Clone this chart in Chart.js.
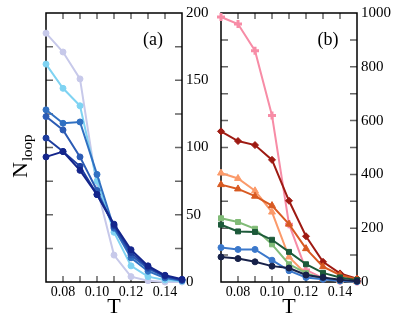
<!DOCTYPE html>
<html>
<head>
<meta charset="utf-8">
<script src="https://cdn.jsdelivr.net/npm/chart.js@4.4.1/dist/chart.umd.min.js"></script>
<style>
body{margin:0;background:#fff;}
#wrap{position:relative;width:407px;height:318px;overflow:hidden;}
canvas{position:absolute;top:0;}
</style>
</head>
<body>
<div id="wrap">
<canvas id="chartA" width="215" height="318" style="left:0px"></canvas>
<canvas id="chartB" width="207" height="318" style="left:200px"></canvas>
</div>
<script>
// temperatures on the x axis
var temps = [0.07, 0.08, 0.09, 0.10, 0.11, 0.12, 0.13, 0.14, 0.15];

// panel (a)
var aLavender = [185, 171, 151, 70, 20, 4, 1, 0, 0];
var aCyan     = [162, 144, 131, 75, 37, 12, 4, 1.5, 0.5];
var aBlue1    = [128, 118, 119, 80, 40, 18, 8, 3, 1];
var aBlue2    = [123, 113, 93, 68, 41, 20, 10, 4, 1.5];
var aBlue3    = [107, 97, 86, 65, 42, 22, 11, 4.5, 1.5];
var aNavy     = [93, 97, 83, 65, 43, 24, 12, 5, 2];

// panel (b)
var bPink        = [985, 959, 860, 619, 215, 45, 14, 5, 2];
var bDarkRed     = [560, 524, 509, 454, 302, 170, 75, 32, 12];
var bLightOrange = [405, 385, 339, 260, 93, 30, 12, 5, 2];
var bOrangeRed   = [362, 346, 319, 284, 215, 124, 57, 26, 10];
var bLightGreen  = [237, 223, 198, 140, 66, 33, 12, 5, 2];
var bDarkGreen   = [213, 188, 186, 157, 112, 66, 34, 17, 7];
var bBlue        = [128, 121, 121, 81, 42, 17, 10, 4, 1];
var bNavy        = [93, 87, 75, 59, 52, 26, 17, 8, 3];

var xLabels = [0.08, 0.10, 0.12, 0.14];
var yLabelsA = [0, 50, 100, 150, 200];
var yLabelsB = [0, 200, 400, 600, 800, 1000];

var serif = "'Liberation Serif', 'DejaVu Serif', serif";

function pts(vals){
  return vals.map(function(v,i){ return {x: temps[i], y: v}; });
}

function ds(vals, color, shape, r, pbw){
  return {
    data: pts(vals),
    borderColor: color,
    backgroundColor: color,
    pointBackgroundColor: color,
    pointBorderColor: color,
    pointStyle: shape,
    pointRadius: r,
    pointBorderWidth: pbw || 1,
    borderWidth: 2,
    tension: 0,
    clip: false
  };
}

// frame + inward ticks on all four sides
var framePlugin = {
  id: 'frame',
  beforeDatasetsDraw: function(chart){
    var ctx = chart.ctx, a = chart.chartArea;
    var xs = chart.scales.x, ys = chart.scales.y;
    ctx.save();
    ctx.strokeStyle = '#666';
    ctx.lineWidth = 1.5;
    ctx.beginPath();
    xs.ticks.forEach(function(t){
      var px = xs.getPixelForValue(t.value);
      if (px <= a.left + 1 || px >= a.right - 1) return;
      ctx.moveTo(px, a.top); ctx.lineTo(px, a.top + 6);
      ctx.moveTo(px, a.bottom); ctx.lineTo(px, a.bottom - 6);
    });
    ys.ticks.forEach(function(t){
      var py = ys.getPixelForValue(t.value);
      if (py <= a.top + 1 || py >= a.bottom - 1) return;
      ctx.moveTo(a.left, py); ctx.lineTo(a.left + 7, py);
      ctx.moveTo(a.right, py); ctx.lineTo(a.right - 7, py);
    });
    ctx.stroke();
    ctx.strokeStyle = '#000';
    ctx.lineWidth = 1.5;
    ctx.strokeRect(a.left, a.top, a.right - a.left, a.bottom - a.top);
    ctx.restore();
  },
  afterDraw: function(chart){
    var ctx = chart.ctx, a = chart.chartArea;
    var o = chart.options.plugins.frame;
    ctx.save();
    ctx.fillStyle = '#000';
    ctx.textAlign = 'center';
    ctx.textBaseline = 'middle';
    ctx.font = '18px ' + serif;
    ctx.fillText(o.tag, a.right - 29, 40);
    if (o.ylabel) {
      ctx.translate(27, 178);
      ctx.rotate(-Math.PI / 2);
      ctx.textAlign = 'left';
      ctx.textBaseline = 'alphabetic';
      ctx.font = '22px ' + serif;
      ctx.fillText('N', 0, 0);
      var w = ctx.measureText('N').width;
      ctx.font = '15px ' + serif;
      ctx.fillText('loop', w + 1, 5);
    }
    ctx.restore();
  }
};

function makeOptions(ymax, ystep, ylabels, padLeft, yWidth, tag, ylabel){
  return {
    responsive: false,
    devicePixelRatio: 1,
    animation: false,
    layout: {padding: {top: 11, left: padLeft, right: 0, bottom: 0}},
    plugins: {
      legend: {display: false},
      tooltip: {enabled: false},
      frame: {tag: tag, ylabel: ylabel}
    },
    scales: {
      x: {
        type: 'linear',
        min: 0.07, max: 0.15,
        grid: {display: false, drawTicks: false},
        border: {display: false},
        afterFit: function(s){ s.height = 36; },
        ticks: {
          stepSize: 0.01,
          autoSkip: false,
          maxRotation: 0,
          padding: 2,
          color: '#000',
          font: {family: serif, size: 14},
          callback: function(v){
            var k = Math.round(v * 100);
            for (var i = 0; i < xLabels.length; i++) {
              if (Math.round(xLabels[i] * 100) === k) return xLabels[i].toFixed(2);
            }
            return '';
          }
        },
        title: {
          display: true, text: 'T', color: '#000',
          font: {family: serif, size: 22, lineHeight: 1},
          padding: 0
        }
      },
      y: {
        position: 'right',
        min: 0, max: ymax,
        grid: {display: false, drawTicks: false},
        border: {display: false},
        afterFit: function(s){ s.width = yWidth; },
        ticks: {
          stepSize: ystep,
          autoSkip: false,
          padding: 4,
          color: '#000',
          font: {family: serif, size: 15},
          callback: function(v){ return ylabels.indexOf(v) >= 0 ? String(v) : ''; }
        }
      }
    }
  };
}

new Chart(document.getElementById('chartA'), {
  type: 'line',
  data: {
    datasets: [
      ds(aNavy, '#14258b', 'circle', 3),
      ds(aBlue3, '#1d3d9e', 'circle', 3),
      ds(aBlue2, '#2b5bb4', 'circle', 3),
      ds(aBlue1, '#3070c2', 'circle', 3),
      ds(aCyan, '#7fd3f2', 'circle', 3),
      ds(aLavender, '#c7c9ea', 'circle', 3)
    ]
  },
  options: makeOptions(200, 25, yLabelsA, 46, 33, '(a)', true),
  plugins: [framePlugin]
});

new Chart(document.getElementById('chartB'), {
  type: 'line',
  data: {
    datasets: [
      ds(bNavy, '#172149', 'circle', 3),
      ds(bBlue, '#3b78cb', 'circle', 3),
      ds(bDarkGreen, '#1d5a3a', 'rect', 3.5),
      ds(bLightGreen, '#80bb77', 'rect', 3.5),
      ds(bOrangeRed, '#d85a22', 'triangle', 4),
      ds(bLightOrange, '#fb9a6a', 'triangle', 4),
      ds(bDarkRed, '#9e1a12', 'rectRot', 3.5),
      ds(bPink, '#f78ca6', 'cross', 4, 3)
    ]
  },
  options: makeOptions(1000, 100, yLabelsB, 21, 50, '(b)', false),
  plugins: [framePlugin]
});
</script>
</body>
</html>
